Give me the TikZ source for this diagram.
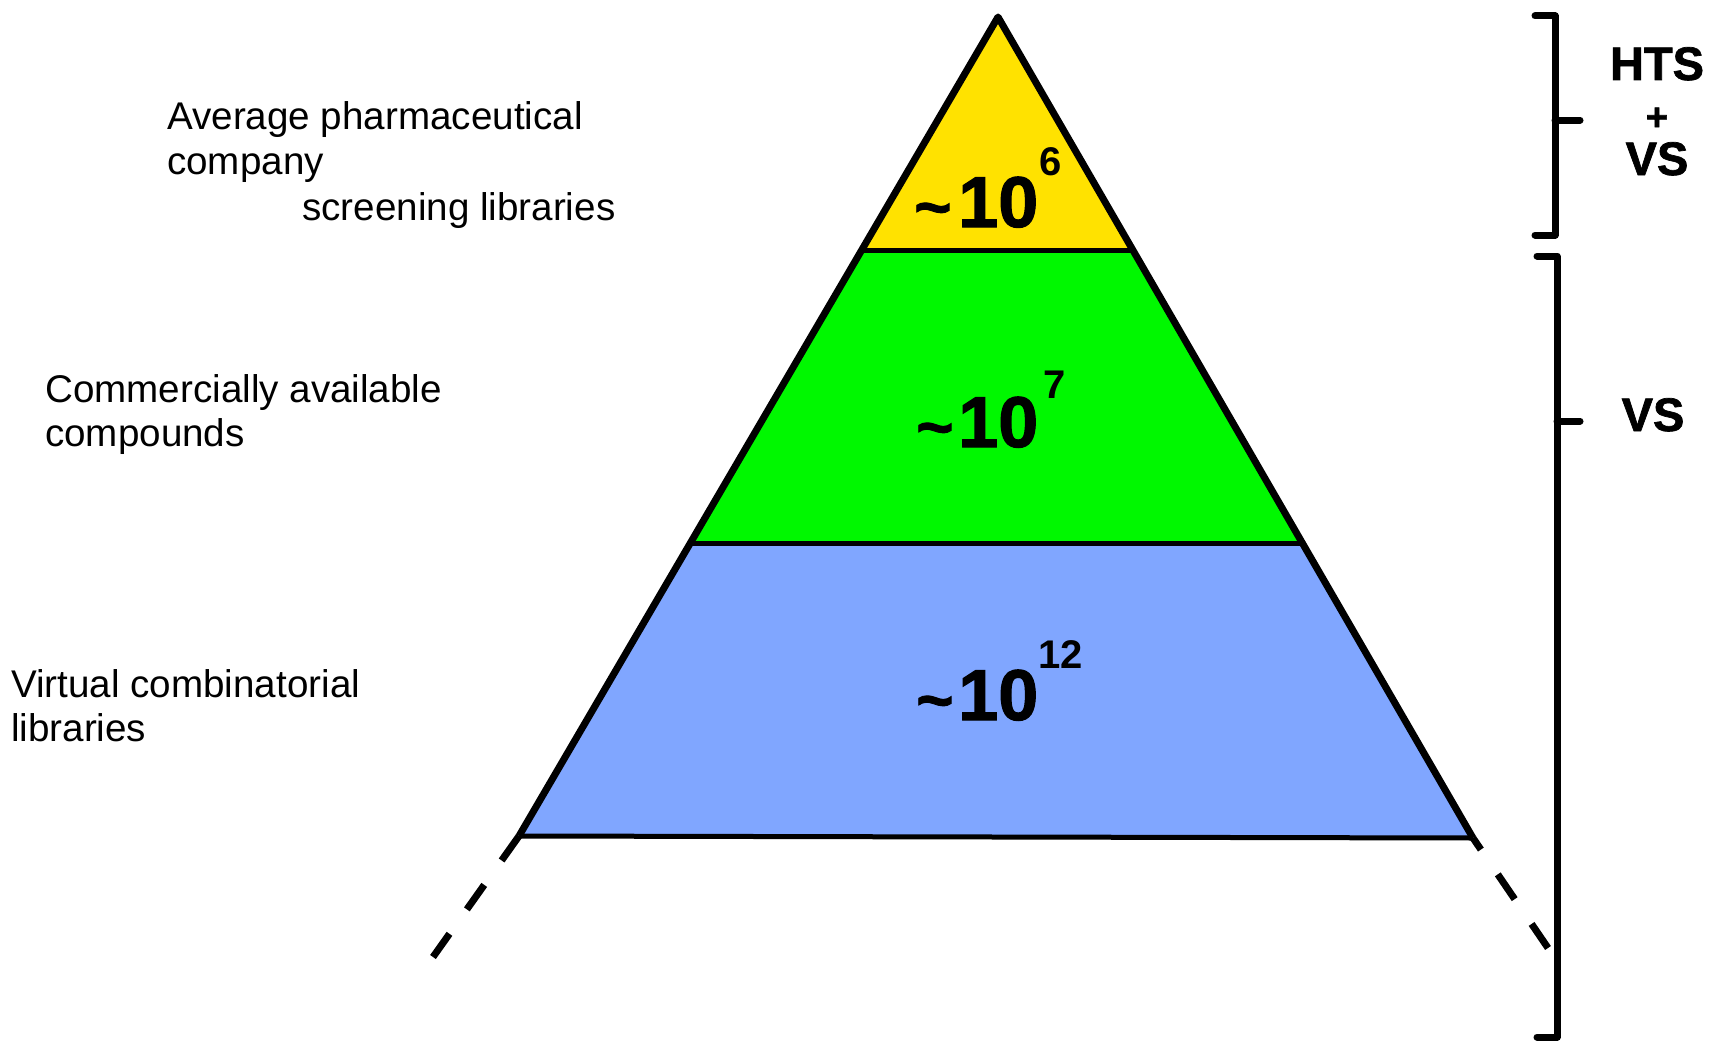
\documentclass[tikz,border=0pt]{standalone}
\usepackage{fontspec}
\setmainfont{Liberation Sans}
\newfontfamily\heavy[BoldFeatures={FakeBold=1.5}]{Liberation Sans}
\definecolor{yellowc}{RGB}{255,226,0}
\definecolor{greenc}{RGB}{0,248,0}
\definecolor{bluec}{RGB}{128,166,255}
\begin{document}
\begin{tikzpicture}[x=1pt,y=-1pt,
  outline/.style={line width=7pt, line join=round},
  divider/.style={line width=5pt},
  dashline/.style={line width=7pt, dash pattern=on 30pt off 30pt},
  brace/.style={line width=7pt, line join=round, line cap=round},
  lbl/.style={anchor=base west, inner sep=0pt, font=\fontsize{38.6}{44}\selectfont},
  big/.style={anchor=base west, inner sep=0pt, font=\heavy\bfseries\fontsize{72}{72}\selectfont},
  tld/.style={anchor=base west, inner sep=0pt, font=\heavy\bfseries\fontsize{64}{64}\selectfont},
  expo/.style={anchor=base west, inner sep=0pt, font=\bfseries\fontsize{40}{40}\selectfont},
  side/.style={anchor=base, inner sep=0pt, font=\heavy\bfseries\fontsize{47}{47}\selectfont}]
\useasboundingbox (0,0) rectangle (1711,1041);
% pyramid corners
\coordinate (apex) at (998,17);
\coordinate (yl) at (862,250);
\coordinate (yr) at (1134,250);
\coordinate (gl) at (690,543);
\coordinate (gr) at (1304,543);
\coordinate (bl) at (519,836);
\coordinate (br) at (1473,838);
\coordinate (dl) at (433,957);
\coordinate (dr) at (1548,948);
% fills
\fill[yellowc] (apex) -- (yr) -- (yl) -- cycle;
\fill[greenc] (yl) -- (yr) -- (gr) -- (gl) -- cycle;
\fill[bluec] (gl) -- (gr) -- (br) -- (bl) -- cycle;
% lines
\draw[divider] (yl) -- (yr);
\draw[divider] (gl) -- (gr);
\draw[divider] (bl) -- (br);
\draw[outline] (bl) -- (apex) -- (br);
\draw[dashline] (bl) -- (dl);
\draw[dashline, dash phase=16pt] (br) -- (dr);
% brackets
\coordinate (b1a) at (1535,16);
\coordinate (b1b) at (1555,16);
\coordinate (b1c) at (1555,235);
\coordinate (b1d) at (1535,235);
\coordinate (b1m) at (1555,120);
\coordinate (b1k) at (1580,120);
\draw[brace] (b1a) -- (b1b) -- (b1c) -- (b1d);
\draw[brace] (b1m) -- (b1k);
\coordinate (b2a) at (1537,256);
\coordinate (b2b) at (1557,256);
\coordinate (b2c) at (1557,1037);
\coordinate (b2d) at (1537,1037);
\coordinate (b2m) at (1557,421);
\coordinate (b2k) at (1580,421);
\draw[brace] (b2a) -- (b2b) -- (b2c) -- (b2d);
\draw[brace] (b2m) -- (b2k);
% left labels
\node[lbl] (t1a) at (167,129) {Average pharmaceutical};
\node[lbl] (t1b) at (167,174) {company};
\node[lbl] (t1c) at (302,220) {screening libraries};
\node[lbl] (t2a) at (45,402) {Commercially available};
\node[lbl] (t2b) at (45,446) {compounds};
\node[lbl] (t3a) at (11,697) {Virtual combinatorial};
\node[lbl] (t3b) at (11,741) {libraries};
% numbers
\node[tld] (n1t) at (914,229) {\textasciitilde};
\node[big] (n1) at (958,227) {10};
\node[expo] (n1e) at (1039,175) {6};
\node[tld] (n2t) at (916,449) {\textasciitilde};
\node[big] (n2) at (958,447) {10};
\node[expo] (n2e) at (1043,398) {7};
\node[tld] (n3t) at (916,722) {\textasciitilde};
\node[big] (n3) at (958,720) {10};
\node[expo] (n3e) at (1038,668) {12};
% right labels
\node[side] (hts) at (1657,80) {HTS};
\node[side, font=\heavy\bfseries\fontsize{38}{38}\selectfont] (plus) at (1657,130) {+};
\node[side] (vs1) at (1657,175) {VS};
\node[side] (vs2) at (1653,431) {VS};
\end{tikzpicture}
\end{document}
